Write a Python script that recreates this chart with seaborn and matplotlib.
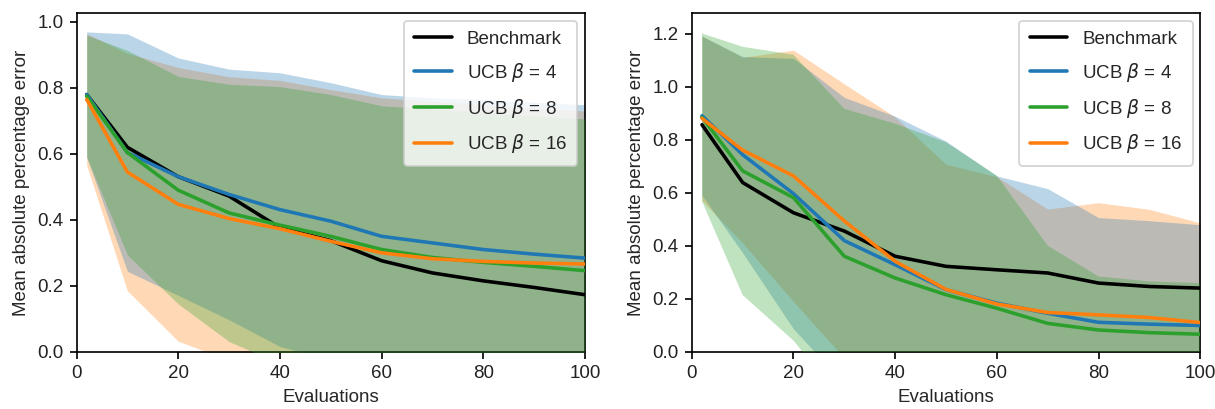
import matplotlib
matplotlib.use("Agg")
import matplotlib.pyplot as plt
import seaborn as sns
import numpy as np
import pandas as pd

# ---------------- data ----------------
evaluations = [2, 10, 20, 30, 40, 50, 60, 70, 80, 90, 100]
series_labels = ["Benchmark", "UCB $\\beta$ = 4", "UCB $\\beta$ = 8", "UCB $\\beta$ = 16"]

# left panel
left_benchmark = [0.78, 0.62, 0.531, 0.472, 0.376, 0.337, 0.276, 0.239, 0.215, 0.195, 0.173]
left_ucb4_mean = [0.78, 0.604, 0.531, 0.477, 0.431, 0.396, 0.350, 0.330, 0.310, 0.296, 0.284]
left_ucb4_sd = [0.19, 0.36, 0.36, 0.38, 0.415, 0.42, 0.43, 0.44, 0.455, 0.46, 0.465]
left_ucb8_mean = [0.775, 0.604, 0.49, 0.421, 0.384, 0.350, 0.310, 0.286, 0.271, 0.259, 0.246]
left_ucb8_sd = [0.185, 0.31, 0.345, 0.39, 0.42, 0.43, 0.436, 0.45, 0.455, 0.456, 0.46]
left_ucb16_mean = [0.765, 0.545, 0.447, 0.404, 0.373, 0.335, 0.300, 0.282, 0.274, 0.269, 0.266]
left_ucb16_sd = [0.2, 0.36, 0.415, 0.43, 0.45, 0.46, 0.47, 0.478, 0.476, 0.471, 0.464]

# right panel
right_benchmark = [0.856, 0.638, 0.524, 0.455, 0.360, 0.322, 0.309, 0.297, 0.259, 0.246, 0.240]
right_ucb4_mean = [0.89, 0.743, 0.596, 0.419, 0.328, 0.234, 0.183, 0.145, 0.111, 0.104, 0.099]
right_ucb4_sd = [0.30, 0.37, 0.51, 0.54, 0.56, 0.56, 0.48, 0.47, 0.395, 0.39, 0.38]
right_ucb8_mean = [0.884, 0.682, 0.581, 0.36, 0.278, 0.215, 0.164, 0.107, 0.082, 0.072, 0.066]
right_ucb8_sd = [0.316, 0.468, 0.539, 0.556, 0.582, 0.575, 0.50, 0.293, 0.202, 0.193, 0.193]
right_ucb16_mean = [0.88, 0.76, 0.663, 0.493, 0.341, 0.235, 0.18, 0.148, 0.139, 0.129, 0.11]
right_ucb16_sd = [0.31, 0.35, 0.474, 0.517, 0.544, 0.472, 0.48, 0.39, 0.423, 0.408, 0.376]

x_ticks = [0, 20, 40, 60, 80, 100]
left_y_ticks = [0.0, 0.2, 0.4, 0.6, 0.8, 1.0]
right_y_ticks = [0.0, 0.2, 0.4, 0.6, 0.8, 1.0, 1.2]
x_label = "Evaluations"
y_label = "Mean absolute percentage error"

# ---------------- style ----------------
sns.set_style("ticks")
plt.rcParams["font.family"] = ["Liberation Sans", "DejaVu Sans"]
plt.rcParams["mathtext.fontset"] = "dejavusans"
plt.rcParams["font.size"] = 10

colors = {"bench": "black", "u4": "#1f77b4", "u8": "#2ca02c", "u16": "#ff7f0e"}

fig = plt.figure(figsize=(9.0, 409 / 135), dpi=135)
ax_l = fig.add_axes([0.0630, 0.140, 0.4184, 0.828])
ax_r = fig.add_axes([0.5694, 0.140, 0.4184, 0.828])


def draw(ax, bench, m4, s4, m8, s8, m16, s16, ylim, yticks):
    x = np.array(evaluations)
    # bands: orange lowest, then blue, then green
    for m, s, c, z in [(m16, s16, colors["u16"], 1), (m4, s4, colors["u4"], 2), (m8, s8, colors["u8"], 3)]:
        m = np.array(m)
        s = np.array(s)
        ax.fill_between(x, m - s, m + s, color=c, alpha=0.3, linewidth=0, zorder=z)
    df = pd.DataFrame({"x": evaluations, "b": bench, "u4": m4, "u8": m8, "u16": m16})
    sns.lineplot(data=df, x="x", y="b", ax=ax, color=colors["bench"], label=series_labels[0], linewidth=1.9, zorder=5)
    sns.lineplot(data=df, x="x", y="u4", ax=ax, color=colors["u4"], label=series_labels[1], linewidth=1.9, zorder=5)
    sns.lineplot(data=df, x="x", y="u8", ax=ax, color=colors["u8"], label=series_labels[2], linewidth=1.9, zorder=5)
    sns.lineplot(data=df, x="x", y="u16", ax=ax, color=colors["u16"], label=series_labels[3], linewidth=1.9, zorder=5)
    ax.set_xlim(0, 100)
    ax.set_ylim(*ylim)
    ax.set_xticks(x_ticks)
    ax.set_yticks(yticks)
    ax.set_xlabel(x_label)
    ax.set_ylabel(y_label)
    for sp in ax.spines.values():
        sp.set_color("black")
        sp.set_linewidth(0.9)
    ax.tick_params(colors="black", labelcolor="#222222", length=3.5, width=0.9)
    leg = ax.legend(loc="upper right", frameon=True, fontsize=10, handlelength=2.0,
                    borderpad=0.55, labelspacing=0.68, borderaxespad=0.4)
    leg.get_frame().set_edgecolor("#cccccc")
    leg.get_frame().set_alpha(0.8)


draw(ax_l, left_benchmark, left_ucb4_mean, left_ucb4_sd, left_ucb8_mean, left_ucb8_sd,
     left_ucb16_mean, left_ucb16_sd, (0, 1.027), left_y_ticks)
draw(ax_r, right_benchmark, right_ucb4_mean, right_ucb4_sd, right_ucb8_mean, right_ucb8_sd,
     right_ucb16_mean, right_ucb16_sd, (0, 1.277), right_y_ticks)

fig.savefig("out.png", dpi=135)
